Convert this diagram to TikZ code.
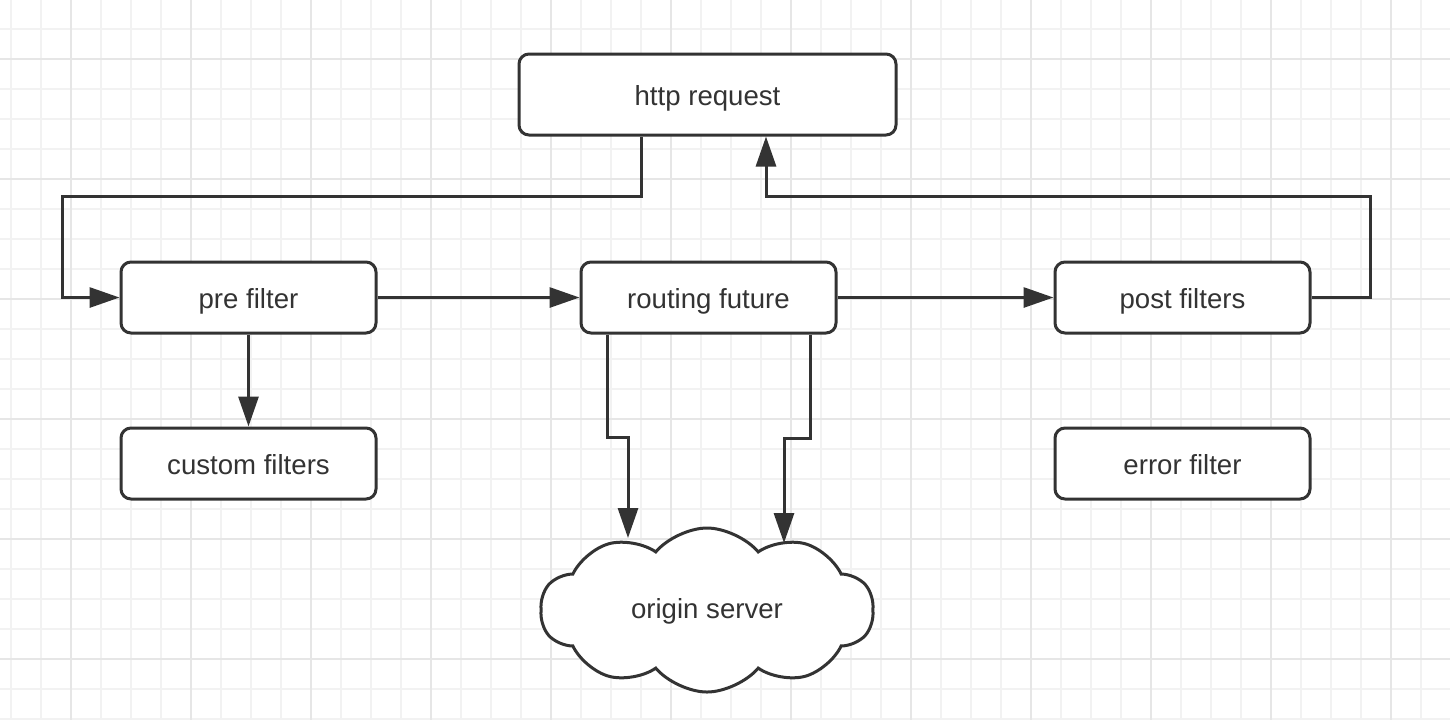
\documentclass[tikz,border=0pt]{standalone}
\usepackage{fontspec}
\setmainfont{Liberation Sans}
\usetikzlibrary{arrows.meta,shapes.symbols}
\definecolor{ink}{HTML}{333333}
\definecolor{gridminor}{HTML}{F2F2F2}
\definecolor{gridmajor}{HTML}{E6E6E6}
\begin{document}
\begin{tikzpicture}[x=0.5pt,y=-0.5pt,
  box/.style={draw=ink,line width=1.5pt,rounded corners=5pt,fill=white,
    minimum width=127.5pt,minimum height=35.5pt,text=ink,
    text height=11pt,text depth=0.5pt,
    font=\fontsize{13.8}{16}\selectfont},
  flow/.style={draw=ink,line width=1.5pt,-{Triangle[length=15pt,width=10pt]}},
  line/.style={draw=ink,line width=1.5pt}]

\useasboundingbox (0,0) rectangle (1450,720);
\fill[white] (0,0) rectangle (1450,720);
% grid
\foreach \x in {11,41,...,1421} \draw[gridminor,line width=1pt] (\x,0) -- (\x,720);
\foreach \y in {29,59,...,719} \draw[gridminor,line width=1pt] (0,\y) -- (1450,\y);
\foreach \x in {71,191,...,1391} \draw[gridmajor,line width=1pt] (\x,0) -- (\x,720);
\foreach \y in {59,179,...,659} \draw[gridmajor,line width=1pt] (0,\y) -- (1450,\y);

\node[box,minimum width=188.5pt,minimum height=40.5pt] (req) at (707.5,94.5) {http request};
\node[box] (pre) at (248.5,297.5) {pre filter};
\node[box] (route) at (708.5,297.5) {routing future};
\node[box] (post) at (1182.5,297.5) {post filters};
\node[box] (custom) at (248.5,463.5) {custom filters};
\node[box] (error) at (1182.5,463.5) {error filter};
\node[cloud,cloud puffs=10,cloud puff arc=100,aspect=2.1,draw=ink,line width=1.5pt,
  fill=white,minimum width=166.5pt,minimum height=82pt,inner sep=0pt,text=ink,
  text height=10pt,text depth=2pt,
  font=\fontsize{13.8}{16}\selectfont] (origin) at (707,610) {origin server};

\coordinate (loopL) at (62,196);
\coordinate (loopR) at (1370,196);
\coordinate (inL) at (628,538);
\coordinate (inR) at (784,543);

\draw[flow] ([xshift=-33.25pt]req.south) |- (loopL) |- (pre.west);
\draw[flow] (post.east) -| (loopR) -| ([xshift=29.25pt]req.south);
\draw[flow] (pre) -- (route);
\draw[flow] (route) -- (post);
\draw[flow] (pre) -- (custom);
\draw[flow] ([xshift=-50.75pt]route.south) -- ++(0,103) -| (inL);
\draw[flow] ([xshift=50.75pt]route.south) -- ++(0,104) -| (inR);

\end{tikzpicture}
\end{document}
